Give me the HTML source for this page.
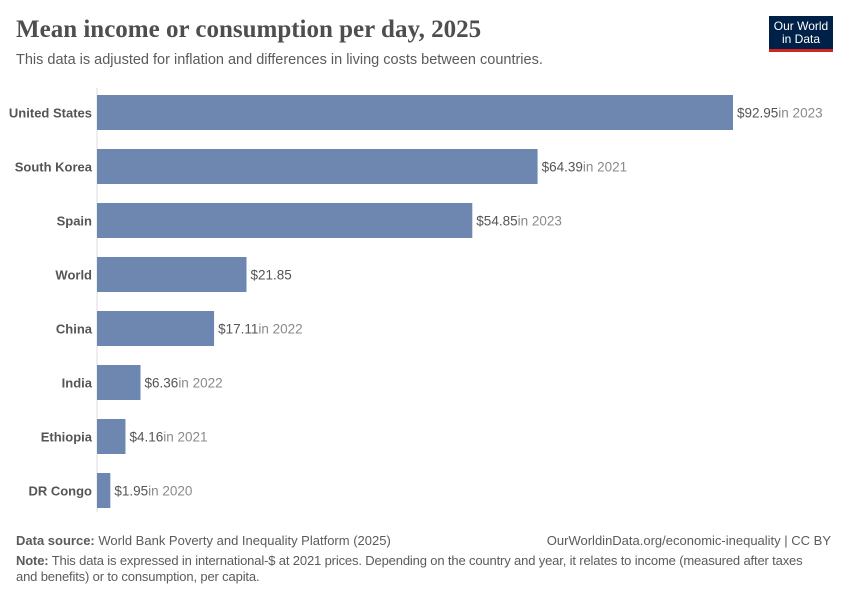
<!DOCTYPE html>
<html><head><meta charset="utf-8"><style>
body{margin:0;width:850px;height:600px;background:#fff;font-family:"Liberation Sans",sans-serif;position:relative;overflow:hidden}
.t{position:absolute;white-space:nowrap}
</style></head><body>
<div class="t" style="left:16px;top:16px;font-family:'Liberation Serif',serif;font-size:25px;font-weight:bold;color:#4e4e4e">Mean income or consumption per day, 2025</div>
<div class="t" style="left:16px;top:52px;font-size:14.5px;color:#5b5b5b">This data is adjusted for inflation and differences in living costs between countries.</div>
<div style="position:absolute;left:769px;top:16px;width:64px;height:36px;background:#002147;border-bottom:3px solid #ce261e;color:#fff;font-size:12px;line-height:13px;text-align:center;padding-top:4px;box-sizing:border-box">Our World<br>in Data</div>
<svg id="c" width="850" height="600" style="position:absolute;left:0;top:0"></svg>
<div class="t" style="left:16px;top:533px;font-size:13px;color:#5b5b5b"><b>Data source:</b> World Bank Poverty and Inequality Platform (2025)</div>
<div class="t" style="right:19px;top:533px;font-size:13px;color:#5b5b5b">OurWorldinData.org/economic-inequality | CC BY</div>
<div class="t" style="left:16px;top:553px;font-size:13px;letter-spacing:-0.15px;color:#5b5b5b;line-height:16px;white-space:normal;width:810px"><b>Note:</b> This data is expressed in international-$ at 2021 prices. Depending on the country and year, it relates to income (measured after taxes and benefits) or to consumption, per capita.</div>
<script>
const categories=["United States","South Korea","Spain","World","China","India","Ethiopia","DR Congo"];
const values=[92.95,64.39,54.85,21.85,17.11,6.36,4.16,1.95];
const years=["in 2023","in 2021","in 2023","","in 2022","in 2022","in 2021","in 2020"];
const svg=document.getElementById('c');const NS='http://www.w3.org/2000/svg';
const x0=97,scale=(733-97)/92.95;
const x=v=>x0+v*scale;
const yc=i=>112.5+i*54;
function mk(t,a){const e=document.createElementNS(NS,t);for(const k in a)e.setAttribute(k,a[k]);svg.appendChild(e);return e;}
const ax=mk('line',{x1:x0,x2:x0,y1:88,y2:512,stroke:'#ddd'});


categories.forEach((c,i)=>{
 const r=mk('rect',{x:x0,y:yc(i)-17.5,width:x(values[i])-x0,height:35,fill:'#6d87b1'});
 
 
 const l=mk('text',{x:92,y:yc(i)+5,'text-anchor':'end','font-size':13,'font-weight':'bold',fill:'#555','font-family':'Liberation Sans'});
 l.textContent=c;
 
 
 const v=mk('text',{x:x(values[i])+4,y:yc(i)+5,'font-size':13.5,fill:'#555','font-family':'Liberation Sans'});
 
 
 const s1=document.createElementNS(NS,'tspan');s1.textContent='$'+values[i].toFixed(2);v.appendChild(s1);
 const s2=document.createElementNS(NS,'tspan');s2.setAttribute('fill','#8a8a8a');s2.textContent=years[i];v.appendChild(s2);
});
</script>
</body></html>
